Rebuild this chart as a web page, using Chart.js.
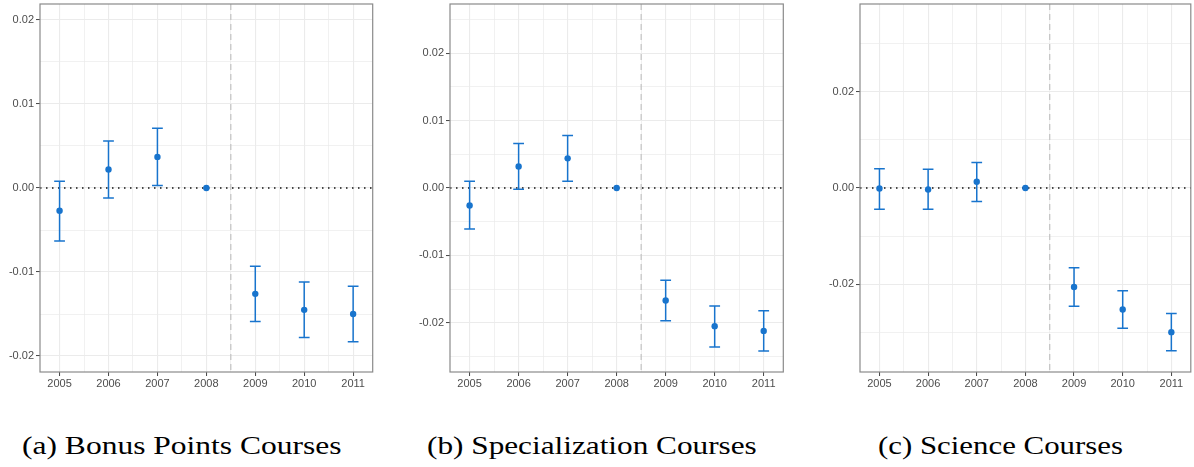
<!DOCTYPE html>
<html>
<head>
<meta charset="utf-8">
<script src="https://cdn.jsdelivr.net/npm/chart.js@4.4.0/dist/chart.umd.min.js"></script>
<style>
  body { margin: 0; background: #fff; }
  #figure { position: relative; width: 1194px; height: 467px; background: #fff; overflow: hidden; }
  .panel { position: absolute; top: 0; height: 395px; }
  .caption {
    position: absolute; top: 433px;
    font-family: 'Liberation Serif', 'Times New Roman', serif;
    font-size: 26px; line-height: 26px; color: #000;
    white-space: nowrap; transform-origin: left top;
  }
</style>
</head>
<body>
<div id="figure">
  <div class="panel" style="left:0;width:390px"><canvas id="chartA"></canvas></div>
  <div class="panel" style="left:400px;width:400px"><canvas id="chartB"></canvas></div>
  <div class="panel" style="left:800px;width:394px"><canvas id="chartC"></canvas></div>
  <div class="caption" id="capA">(a) Bonus Points Courses</div>
  <div class="caption" id="capB">(b) Specialization Courses</div>
  <div class="caption" id="capC">(c) Science Courses</div>
</div>
<script>
// Event-study estimates by year, 2008 is the reference year
const years = [2005, 2006, 2007, 2008, 2009, 2010, 2011];

const bonusEst  = [-0.0027, 0.0022, 0.0037, 0, -0.0126, -0.0145, -0.0150];
const bonusLow  = [-0.0063, -0.0012, 0.0003, null, -0.0159, -0.0178, -0.0183];
const bonusHigh = [0.0008, 0.0056, 0.0071, null, -0.0093, -0.0112, -0.0117];

const specEst  = [-0.0026, 0.0032, 0.0044, 0, -0.0167, -0.0205, -0.0212];
const specLow  = [-0.0061, -0.0002, 0.0010, null, -0.0197, -0.0236, -0.0242];
const specHigh = [0.0010, 0.0066, 0.0078, null, -0.0137, -0.0175, -0.0182];

const sciEst  = [-0.0001, -0.0003, 0.0013, 0, -0.0206, -0.0253, -0.0300];
const sciLow  = [-0.0044, -0.0044, -0.0028, null, -0.0246, -0.0292, -0.0339];
const sciHigh = [0.0040, 0.0039, 0.0053, null, -0.0166, -0.0214, -0.0261];

// x-axis: labelled years plus minor grid between them
const yearTicks = [2005, 2006, 2007, 2008, 2009, 2010, 2011];
const yearMinor = [2005.5, 2006.5, 2007.5, 2008.5, 2009.5, 2010.5];
const cutoffYear = 2008.5;

const bonusTicks = [-0.02, -0.01, 0, 0.01, 0.02];
const bonusMinor = [-0.015, -0.005, 0.005, 0.015];
const specTicks = [-0.02, -0.01, 0, 0.01, 0.02];
const specMinor = [-0.025, -0.015, -0.005, 0.005, 0.015, 0.025];
const sciTicks = [-0.02, 0, 0.02];
const sciMinor = [-0.03, -0.01, 0.01, 0.03];

const BLUE = '#1874CD';
const GRID = '#ebebeb';
const TICK_FONT = { family: "'Liberation Sans', Arial, sans-serif", size: 11 };

const isIn = (list, v) => list.some(t => Math.abs(t - v) < 1e-9);

// reference lines, error bars and panel border
const panelDecor = {
    id: 'panelDecor',
    beforeDatasetsDraw(chart) {
        const { ctx, chartArea: a, scales: { x, y } } = chart;
        ctx.save();

        const cx = x.getPixelForValue(cutoffYear);
        ctx.strokeStyle = '#c2c2c2';
        ctx.lineWidth = 1.2;
        ctx.setLineDash([6, 4]);
        ctx.beginPath();
        ctx.moveTo(cx, a.top);
        ctx.lineTo(cx, a.bottom);
        ctx.stroke();

        const zy = y.getPixelForValue(0);
        ctx.strokeStyle = '#111';
        ctx.lineWidth = 1.5;
        ctx.setLineDash([1.5, 4.5]);
        ctx.beginPath();
        ctx.moveTo(a.left, zy);
        ctx.lineTo(a.right, zy);
        ctx.stroke();

        ctx.setLineDash([]);
        const ds = chart.data.datasets[0];
        ctx.strokeStyle = BLUE;
        ctx.lineWidth = 1.5;
        ds.data.forEach((p, i) => {
            const lo = ds.low[i], hi = ds.high[i];
            if (lo === null || hi === null) return;
            const px = x.getPixelForValue(p.x);
            const x0 = x.getPixelForValue(p.x - 0.11);
            const x1 = x.getPixelForValue(p.x + 0.11);
            const yl = y.getPixelForValue(lo);
            const yh = y.getPixelForValue(hi);
            ctx.beginPath();
            ctx.moveTo(px, yl); ctx.lineTo(px, yh);
            ctx.moveTo(x0, yl); ctx.lineTo(x1, yl);
            ctx.moveTo(x0, yh); ctx.lineTo(x1, yh);
            ctx.stroke();
        });
        ctx.restore();
    },
    afterDraw(chart) {
        const { ctx, chartArea: a } = chart;
        ctx.save();
        ctx.strokeStyle = '#8a8a8a';
        ctx.lineWidth = 1.2;
        ctx.strokeRect(a.left, a.top, a.right - a.left, a.bottom - a.top);
        ctx.restore();
    }
};

function makePanel(id, est, low, high, yMax, majors, minors, yWidth, padRight) {
    const points = years.map((yr, i) => ({ x: yr, y: est[i] }));
    return new Chart(document.getElementById(id), {
        type: 'scatter',
        data: {
            datasets: [{
                data: points,
                low: low,
                high: high,
                backgroundColor: BLUE,
                borderColor: BLUE,
                pointRadius: 3.2,
                pointHoverRadius: 3.2,
                borderWidth: 0
            }]
        },
        options: {
            responsive: true,
            maintainAspectRatio: false,
            animation: false,
            layout: { padding: { top: 4, right: padRight, left: 0, bottom: 0 } },
            plugins: { legend: { display: false }, tooltip: { enabled: false } },
            scales: {
                x: {
                    type: 'linear',
                    min: 2004.6,
                    max: 2011.4,
                    bounds: 'data',
                    afterBuildTicks: axis => {
                        axis.ticks = [...yearTicks, ...yearMinor].sort((a, b) => a - b).map(v => ({ value: v }));
                    },
                    afterFit: axis => {
                        axis.height = 23;
                        axis.paddingLeft = 0;
                        axis.paddingRight = 0;
                    },
                    border: { display: false },
                    grid: {
                        color: GRID,
                        lineWidth: c => isIn(yearTicks, c.tick.value) ? 1.1 : 0.7,
                        tickColor: c => isIn(yearTicks, c.tick.value) ? '#444' : 'rgba(0,0,0,0)',
                        tickLength: 4,
                        tickWidth: 1
                    },
                    ticks: {
                        autoSkip: false,
                        maxRotation: 0,
                        padding: 1,
                        color: '#4d4d4d',
                        font: TICK_FONT,
                        callback: v => isIn(yearTicks, v) ? String(Math.round(v)) : ''
                    }
                },
                y: {
                    type: 'linear',
                    min: -yMax,
                    max: yMax,
                    bounds: 'data',
                    afterBuildTicks: axis => {
                        axis.ticks = [...majors, ...minors].sort((a, b) => a - b).map(v => ({ value: v }));
                    },
                    afterFit: axis => {
                        axis.width = yWidth;
                        axis.paddingTop = 0;
                        axis.paddingBottom = 0;
                    },
                    border: { display: false },
                    grid: {
                        color: GRID,
                        lineWidth: c => isIn(majors, c.tick.value) ? 1.1 : 0.7,
                        tickColor: c => isIn(majors, c.tick.value) ? '#444' : 'rgba(0,0,0,0)',
                        tickLength: 4,
                        tickWidth: 1
                    },
                    ticks: {
                        autoSkip: false,
                        padding: 2,
                        color: '#4d4d4d',
                        font: TICK_FONT,
                        callback: v => isIn(majors, v) ? v.toFixed(2) : ''
                    }
                }
            }
        },
        plugins: [panelDecor]
    });
}

makePanel('chartA', bonusEst, bonusLow, bonusHigh, 0.0219, bonusTicks, bonusMinor, 40, 17.3);
makePanel('chartB', specEst, specLow, specHigh, 0.0273, specTicks, specMinor, 50, 16.7);
makePanel('chartC', sciEst, sciLow, sciHigh, 0.0383, sciTicks, sciMinor, 60, 0.7);

// stretch the serif captions to the sub-figure caption widths
const captionBoxes = [['capA', 21.7, 320], ['capB', 426.7, 329.3], ['capC', 878.3, 244.4]];
captionBoxes.forEach(([id, left, width]) => {
    const el = document.getElementById(id);
    el.style.left = left + 'px';
    el.style.transform = `scaleX(${width / el.offsetWidth})`;
});
</script>
</body>
</html>
